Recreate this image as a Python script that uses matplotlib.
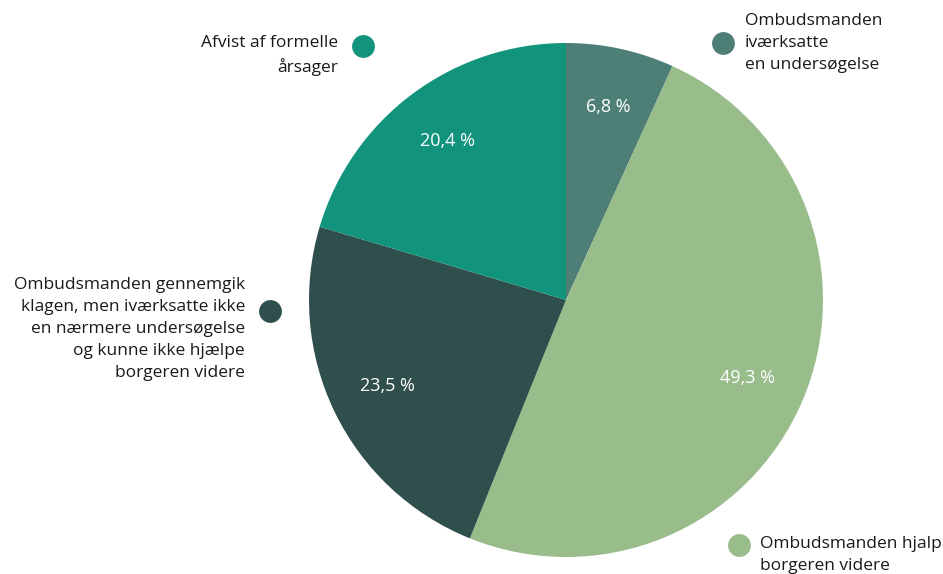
import matplotlib.pyplot as plt

plt.rcParams['font.family'] = ['Open Sans', 'DejaVu Sans']

# clockwise from 12 o'clock
categories = [
    "Ombudsmanden\niværksatte\nen undersøgelse",
    "Ombudsmanden hjalp\nborgeren videre",
    "Ombudsmanden gennemgik\nklagen, men iværksatte ikke\nen nærmere undersøgelse\nog kunne ikke hjælpe\nborgeren videre",
    "Afvist af formelle\nårsager",
]
shares = [6.8, 49.3, 23.5, 20.4]
colors = ["#4e7f76", "#98bc8a", "#2f4f4d", "#12937c"]

W, H = 943, 574
fig = plt.figure(figsize=(W / 100, H / 100), dpi=100)

# pie: centre (566, 300) px, radius 257 px
cx, cy, r = 566, 300, 257
ax = fig.add_axes([(cx - r) / W, (H - cy - r) / H, 2 * r / W, 2 * r / H])
wedges, _, pct = ax.pie(
    shares, colors=colors, startangle=90, counterclock=False,
    autopct=lambda p: f"{p:.1f} %".replace(".", ","), pctdistance=0.77,
    wedgeprops=dict(linewidth=0),
)
for t in pct:
    t.set_color("white")
    t.set_fontsize(13)
ax.set_xlim(-1, 1)
ax.set_ylim(-1, 1)
ax.set_aspect("auto")

# labels with round markers, overlay in pixel coords
ov = fig.add_axes([0, 0, 1, 1], facecolor="none")
ov.set_xlim(0, W)
ov.set_ylim(H, 0)
ov.axis("off")

# (marker x, marker y, text x, text top y, ha)
spots = [
    (723, 43, 745, 13, "left"),
    (739, 545, 760, 536, "left"),
    (270, 311, 245, 277, "right"),
    (363, 46, 338, 35, "right"),
]
for (mx, my, tx, ty, ha), lab, c in zip(spots, categories, colors):
    ov.scatter([mx], [my], s=270, color=c, linewidths=0)
    ov.text(tx, ty, lab, ha=ha, va="top", fontsize=12.5, color="#1a1a1a",
            linespacing=1.5, multialignment=ha)

fig.savefig("out.png", dpi=100)
